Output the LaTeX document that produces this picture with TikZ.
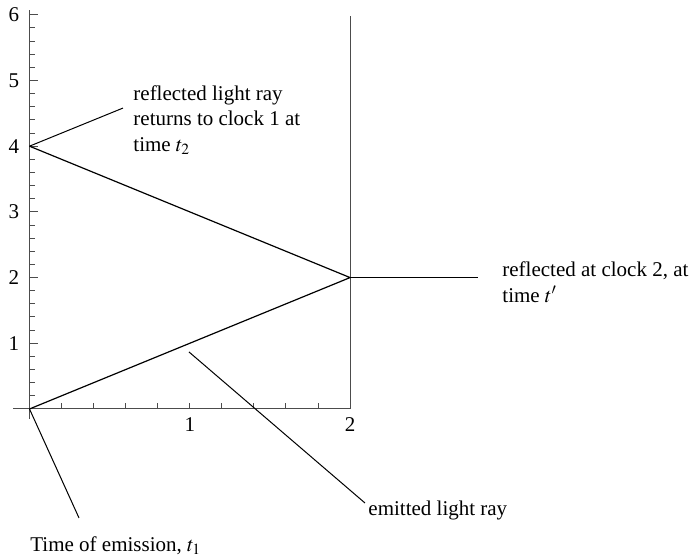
\documentclass[tikz,border=0pt]{standalone}
\usepackage{mathptmx}
\usepackage{fontspec}
\setmainfont{Liberation Serif}
\usetikzlibrary{positioning}

\begin{document}
\begin{tikzpicture}[x=2.817cm, y=1.1546cm,
    font=\fontsize{10.5}{12.75}\selectfont,
    axis/.style={black!70, line width=0.5pt},
    ray/.style={black, line width=0.6pt},
    pointer/.style={black, line width=0.5pt},
    note/.style={inner sep=0pt, align=left}]
  \useasboundingbox (-0.184,-2.268) rectangle (4.127,6.225);

  % Axes and the world line of clock 2
  \draw[axis] (-0.1,0) -- (2,0);
  \draw[axis] (0,-0.15) -- (0,6.07);
  \draw[axis] (2,0) -- (2,5.98);

  % Ticks
  \foreach \k in {1,...,10}
    \draw[axis] (0.2*\k,0) -- ++(0,3pt);
  \foreach \k in {1,...,30}
    \draw[axis] (0,0.2*\k) -- ++(3pt,0);
  \foreach \k in {1,...,6}
    \draw[axis] (0,\k) -- ++(4.5pt,0);

  % Tick labels
  \foreach \k in {1,2}
    \node (xl\k) at (\k,-0.244) {\k};
  \foreach \k in {1,...,6}
    \node (yl\k) at (-0.097,\k) {\k};

  % Events
  \coordinate (emit) at (0,0);
  \coordinate (refl) at (2,2);
  \coordinate (back) at (0,4);

  % Light rays
  \draw[ray] (emit) -- (refl) -- (back);

  % Labels
  \node[note, anchor=north west] (backtxt) at (0.646,4.93)
    {reflected light ray\\returns to clock 1 at\\time $t_2$};
  \node[note, anchor=north west] (refltxt) at (2.948,2.243)
    {reflected at clock 2, at\\time $t'$};
  \node[note, anchor=base west] (raytxt) at (2.112,-1.629) {emitted light ray};
  \node[note, anchor=base west] (emittxt) at (0.003,-2.172) {Time of emission, $t_1$};

  % Pointers
  \coordinate (backend) at (0.583,4.58);
  \coordinate (reflend) at (2.798,2);
  \coordinate (raystart) at (0.995,0.868);
  \coordinate (rayend) at (2.093,-1.431);
  \coordinate (emitend) at (0.309,-1.659);

  \draw[pointer] (back) -- (backend);
  \draw[pointer] (refl) -- (reflend);
  \draw[pointer] (raystart) -- (rayend);
  \draw[pointer] (emit) -- (emitend);
\end{tikzpicture}
\end{document}
